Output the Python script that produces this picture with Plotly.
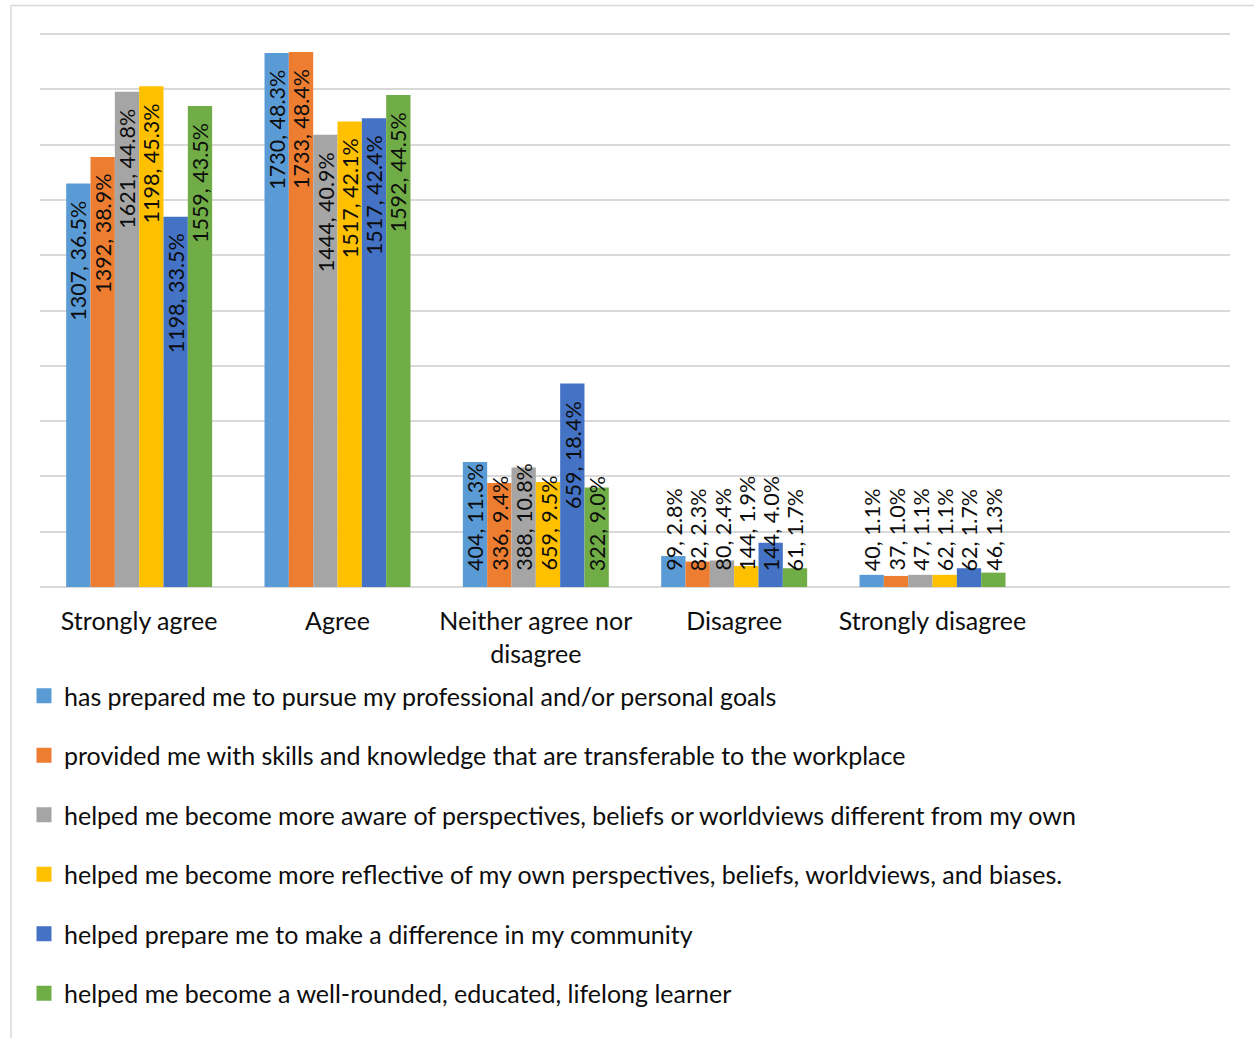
import plotly.graph_objects as go

# ---- survey data -----------------------------------------------------------
categories = ["Strongly agree", "Agree", "Neither agree nor disagree",
              "Disagree", "Strongly disagree"]
tick_labels = ["Strongly agree", "Agree", "Neither agree nor<br>disagree",
               "Disagree", "Strongly disagree"]

series_names = [
    "has prepared me to pursue my professional and/or personal goals",
    "provided me with skills and knowledge that are transferable to the workplace",
    "helped me become more aware of perspectives, beliefs or worldviews different from my own",
    "helped me become more reflective of my own perspectives, beliefs, worldviews, and biases.",
    "helped prepare me to make a difference in my community",
    "helped me become a well-rounded, educated, lifelong learner",
]

counts_goals = [1307, 1730, 404, 99, 40]
counts_workplace = [1392, 1733, 336, 82, 37]
counts_aware = [1621, 1444, 388, 80, 47]
counts_reflective = [1198, 1517, 659, 144, 62]
counts_community = [1198, 1517, 659, 144, 62]
counts_learner = [1559, 1592, 322, 61, 46]

pct_goals = [36.5, 48.3, 11.3, 2.8, 1.1]
pct_workplace = [38.9, 48.4, 9.4, 2.3, 1.0]
pct_aware = [44.8, 40.9, 10.8, 2.4, 1.1]
pct_reflective = [45.3, 42.1, 9.5, 1.9, 1.1]
pct_community = [33.5, 42.4, 18.4, 4.0, 1.7]
pct_learner = [43.5, 44.5, 9.0, 1.7, 1.3]

all_counts = [counts_goals, counts_workplace, counts_aware,
              counts_reflective, counts_community, counts_learner]
all_pcts = [pct_goals, pct_workplace, pct_aware,
            pct_reflective, pct_community, pct_learner]

# ---- styling ---------------------------------------------------------------
colors = ["#5B9BD5", "#ED7D31", "#A5A5A5", "#FFC000", "#4472C4", "#70AD47"]
FONT = "Lato, Carlito, 'Open Sans', sans-serif"
TEXT_COLOR = "#0d0d0d"
GRID_COLOR = "#D9D9D9"
BARGAP = 0.264
N_SERIES = len(series_names)
BAR_W = (1 - BARGAP) / N_SERIES
INSIDE_MIN = 15  # bars shorter than this get their label pinned to the base
Y_TOP = 50.2     # a little headroom so the 50% gridline is still drawn

fig = go.Figure()

for i, (name, color, cnts, pcts) in enumerate(zip(series_names, colors, all_counts, all_pcts)):
    fig.add_trace(go.Bar(
        x=categories,
        y=pcts,
        name=name,
        legendgroup=f"g{i}",
        showlegend=False,
        marker=dict(color=color, line=dict(width=0)),
        customdata=cnts,
        hovertemplate="%{x}: %{customdata}, %{y:.1f}%<extra></extra>",
    ))
    # square swatch for the legend entry
    fig.add_trace(go.Scatter(
        x=[None], y=[None],
        mode="markers",
        name=name,
        legendgroup=f"g{i}",
        marker=dict(symbol="square", size=15, color=color, line=dict(width=0)),
        hoverinfo="skip",
    ))

# rotated "count, percent" labels for every bar
annotations = []
for i, (cnts, pcts) in enumerate(zip(all_counts, all_pcts)):
    offset = (i - (N_SERIES - 1) / 2) * BAR_W
    for j, (c, p) in enumerate(zip(cnts, pcts)):
        inside = p >= INSIDE_MIN
        annotations.append(dict(
            x=j + offset,
            y=p if inside else 0,
            xref="x", yref="y",
            text=f"{c}, {p:.1f}%",
            textangle=-90,
            showarrow=False,
            xanchor="center",
            yanchor="top" if inside else "bottom",
            yshift=-15 if inside else 14,
            font=dict(family=FONT, size=21.5, color=TEXT_COLOR),
        ))

# outer chart frame (left and top edges fall inside the page)
W, H = 1254, 1038
ML, MR, MT, MB = 40, 24, 32, 451
pw, ph = W - ML - MR, H - MT - MB


def px_x(px):
    return (px - ML) / pw


def px_y(py):
    return (H - MB - py) / ph


fig.add_shape(type="rect", xref="paper", yref="paper",
              x0=px_x(11), x1=px_x(W + 10), y0=px_y(H + 10), y1=px_y(5.5),
              line=dict(color=GRID_COLOR, width=1.5), layer="below")

fig.update_layout(
    width=W, height=H,
    margin=dict(l=ML, r=MR, t=MT, b=MB, autoexpand=False),
    paper_bgcolor="white",
    plot_bgcolor="white",
    barmode="group",
    bargap=BARGAP,
    bargroupgap=0,
    font=dict(family=FONT, color=TEXT_COLOR),
    annotations=annotations,
    showlegend=True,
    legend=dict(
        orientation="v",
        x=px_x(24), xanchor="left",
        y=px_y(673), yanchor="top",
        font=dict(family=FONT, size=25, color=TEXT_COLOR),
        tracegroupgap=24,
        itemsizing="trace",
        bgcolor="rgba(0,0,0,0)",
        borderwidth=0,
    ),
    xaxis=dict(
        type="category",
        range=[-0.5, 5.5],
        tickmode="array",
        tickvals=categories,
        ticktext=tick_labels,
        tickfont=dict(family=FONT, size=25, color=TEXT_COLOR),
        showgrid=False,
        showline=False,
        zeroline=False,
        ticks="",
        ticklabelstandoff=17,
        fixedrange=True,
    ),
    yaxis=dict(
        range=[0, Y_TOP],
        dtick=5,
        tick0=0,
        showticklabels=False,
        showgrid=True,
        gridcolor=GRID_COLOR,
        gridwidth=1.5,
        zeroline=True,
        zerolinecolor=GRID_COLOR,
        zerolinewidth=1.8,
        showline=False,
        ticks="",
        fixedrange=True,
    ),
)

fig.write_html("out.html")
